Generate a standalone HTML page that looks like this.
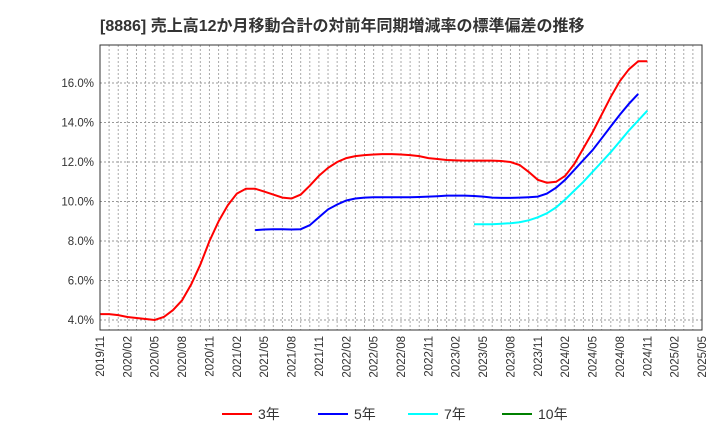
<!DOCTYPE html>
<html><head><meta charset="utf-8">
<style>
body{margin:0;background:#fff;}
svg text{font-family:"Liberation Sans","Noto Sans CJK JP",sans-serif;}
</style></head>
<body>
<svg id="chart" width="720" height="440" xmlns="http://www.w3.org/2000/svg">
<text x="100" y="31" font-size="16" font-weight="bold" fill="#333">[8886]  売上高12か月移動合計の対前年同期増減率の標準偏差の推移</text>
<g id="grid"></g>
<g id="series"></g>
<g id="axes"></g>
<g id="legend"></g>
</svg>
<script>
const startYear=2019, startMonth=11, nMonths=67;
const yTicks=[4,6,8,10,12,14,16];
const yTickLabels=["4.0%","6.0%","8.0%","10.0%","12.0%","14.0%","16.0%"];
const red3=[4.3,4.3,4.25,4.15,4.1,4.05,4.0,4.15,4.5,5.0,5.8,6.8,8.0,9.0,9.8,10.4,10.65,10.65,10.5,10.35,10.2,10.15,10.35,10.8,11.3,11.7,12.0,12.2,12.3,12.35,12.38,12.4,12.4,12.38,12.35,12.3,12.2,12.15,12.1,12.08,12.07,12.07,12.07,12.07,12.05,12.0,11.85,11.5,11.1,10.95,11.0,11.3,11.9,12.7,13.5,14.4,15.3,16.1,16.7,17.1,17.1];
const red3Start=0;
const blue5=[8.55,8.58,8.6,8.6,8.58,8.6,8.8,9.2,9.6,9.85,10.05,10.15,10.2,10.22,10.22,10.22,10.22,10.22,10.23,10.25,10.27,10.3,10.3,10.3,10.28,10.25,10.2,10.18,10.18,10.2,10.22,10.25,10.4,10.7,11.1,11.6,12.1,12.6,13.2,13.8,14.4,14.95,15.45];
const blue5Start=17;
const cyan7=[8.85,8.85,8.85,8.87,8.9,8.95,9.05,9.2,9.4,9.7,10.1,10.55,11.0,11.5,12.0,12.5,13.05,13.6,14.1,14.6];
const cyan7Start=41;
const legendLabels=["3年","5年","7年","10年"];
const legendColors=["#ff0000","#0000ff","#00ffff","#008000"];

const L=100,R=702,T=45,B=330;
const x=i=>L+i*(R-L)/(nMonths-1);
const y=v=>320-(v-4)*(320-83)/12;
const NS="http://www.w3.org/2000/svg";
function mk(tag,attrs,parent,txt){const e=document.createElementNS(NS,tag);for(const k in attrs)e.setAttribute(k,attrs[k]);if(txt!==undefined)e.textContent=txt;parent.appendChild(e);return e;}
const grid=document.getElementById('grid'),axes=document.getElementById('axes'),ser=document.getElementById('series'),leg=document.getElementById('legend');
for(let i=0;i<nMonths;i++){
  const g=mk('line',{x1:x(i),x2:x(i),y1:T,y2:B,stroke:'#aaa','stroke-dasharray':'2,2','stroke-width':1},grid);
  
  
  if(i%3===0){
    const m=(startMonth-1+i)%12+1, yr=startYear+Math.floor((startMonth-1+i)/12);
    const lbl=yr+'/'+String(m).padStart(2,'0');
    const t=mk('text',{x:x(i)+4,y:B+6,'font-size':11.5,fill:'#333','text-anchor':'end',transform:`rotate(-90 ${x(i)+4} ${B+6})`},axes,lbl);
    
    
  }
}
yTicks.forEach((v,k)=>{
  const g=mk('line',{x1:L,x2:R,y1:y(v),y2:y(v),stroke:'#999','stroke-dasharray':'2,2','stroke-width':1},grid);
  
  
  const t=mk('text',{x:L-6,y:y(v)+4,'font-size':11.5,fill:'#333','text-anchor':'end'},axes,yTickLabels[k]);
  
  
});
const frame=mk('rect',{x:L,y:T,width:R-L,height:B-T,fill:'none',stroke:'#333','stroke-width':1},axes);


function line(data,start,color,name){
  const d=data.map((v,k)=>(k?'L':'M')+x(start+k).toFixed(1)+','+y(v).toFixed(1)).join('');
  const p=mk('path',{d:d,fill:'none',stroke:color,'stroke-width':2},ser);
  
  
}
line(red3,red3Start,'#ff0000','line-3yr');
line(blue5,blue5Start,'#0000ff','line-5yr');
line(cyan7,cyan7Start,'#00ffff','line-7yr');
const lx=[222,318,408,502];
legendLabels.forEach((s,k)=>{
  const g=mk('g',{},leg);
  
  
  mk('line',{x1:lx[k],x2:lx[k]+30,y1:414,y2:414,stroke:legendColors[k],'stroke-width':2},g);
  mk('text',{x:lx[k]+36,y:419,'font-size':14,fill:'#333'},g,s);
});
</script>
</body></html>
